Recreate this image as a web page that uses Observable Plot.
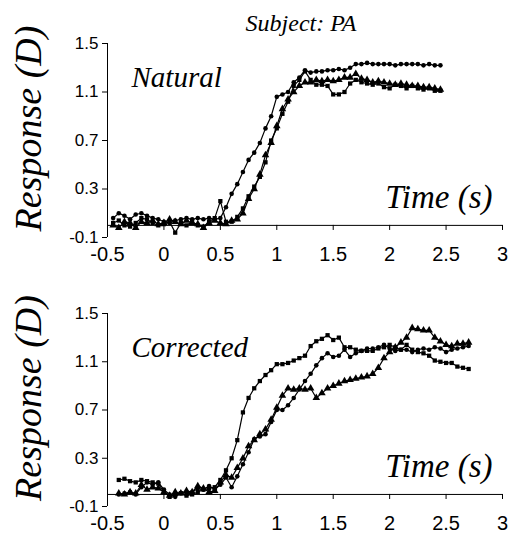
<!DOCTYPE html>
<html>
<head>
<meta charset="utf-8">
<script src="https://cdn.jsdelivr.net/npm/d3@7"></script>
<script src="https://cdn.jsdelivr.net/npm/@observablehq/plot@0.6"></script>
<style>
  html, body { margin: 0; padding: 0; background: #fff; }
  #chart svg { display: block; }
</style>
</head>
<body>
<div id="chart"></div>
<script>
// ---------- data ----------
const title = "Subject: PA";
const yLabel = "Response (D)";
const xLabel = "Time (s)";
const panelLabels = ["Natural", "Corrected"];
const yTicks = [-0.1, 0.3, 0.7, 1.1, 1.5];
const xTicks = [-0.5, 0, 0.5, 1, 1.5, 2, 2.5, 3];

const tTop = [-0.45,-0.4,-0.35,-0.3,-0.25,-0.2,-0.15,-0.1,-0.05,0,0.05,0.1,0.15,0.2,0.25,0.3,0.35,0.4,0.45,0.5,0.55,0.6,0.65,0.7,0.75,0.8,0.85,0.9,0.95,1,1.05,1.1,1.15,1.2,1.25,1.3,1.35,1.4,1.45,1.5,1.55,1.6,1.65,1.7,1.75,1.8,1.85,1.9,1.95,2,2.05,2.1,2.15,2.2,2.25,2.3,2.35,2.4,2.45];
const topCircle = [0.06,0.1,0.08,0.05,0.09,0.1,0.08,0.06,0.05,0.03,0.02,0.04,0.05,0.06,0.05,0.06,0.05,0.06,0.05,0.06,0.15,0.26,0.34,0.44,0.54,0.6,0.68,0.8,0.9,1.06,1.08,1.1,1.18,1.22,1.28,1.26,1.27,1.27,1.28,1.28,1.29,1.28,1.3,1.33,1.33,1.34,1.33,1.33,1.33,1.33,1.32,1.33,1.33,1.33,1.33,1.32,1.33,1.32,1.32];
const topSquare = [0.02,0.04,0.0,-0.01,0.02,0.06,0.05,0.02,0.0,0.01,0.03,-0.06,0.02,0.0,0.03,0.0,-0.01,0.03,0.06,0.2,0.03,0.03,0.07,0.14,0.24,0.32,0.4,0.52,0.7,0.8,0.92,1.02,1.15,1.2,1.27,1.2,1.16,1.16,1.15,1.08,1.08,1.1,1.17,1.2,1.18,1.17,1.16,1.17,1.14,1.13,1.16,1.15,1.13,1.15,1.13,1.12,1.13,1.11,1.11];
const topTriangle = [0.0,-0.02,0.03,0.02,-0.02,0.03,0.02,0.04,0.01,0.02,0.05,0.03,0.01,0.04,0.02,0.01,-0.02,0.02,0.04,0.02,0.01,0.04,0.05,0.1,0.22,0.3,0.42,0.58,0.68,0.82,0.96,1.04,1.1,1.15,1.18,1.18,1.2,1.19,1.2,1.19,1.2,1.22,1.22,1.25,1.21,1.2,1.18,1.19,1.18,1.17,1.16,1.17,1.16,1.15,1.15,1.14,1.14,1.13,1.12];

const tBot = [-0.4,-0.35,-0.3,-0.25,-0.2,-0.15,-0.1,-0.05,0,0.05,0.1,0.15,0.2,0.25,0.3,0.35,0.4,0.45,0.5,0.55,0.6,0.65,0.7,0.75,0.8,0.85,0.9,0.95,1,1.05,1.1,1.15,1.2,1.25,1.3,1.35,1.4,1.45,1.5,1.55,1.6,1.65,1.7,1.75,1.8,1.85,1.9,1.95,2,2.05,2.1,2.15,2.2,2.25,2.3,2.35,2.4,2.45,2.5,2.55,2.6,2.65,2.7];
const botSquare = [0.12,0.13,0.11,0.1,0.12,0.11,0.1,0.09,0.02,-0.02,0.0,0.01,-0.01,0.0,0.02,0.04,0.05,0.06,0.12,0.2,0.3,0.45,0.68,0.8,0.88,0.94,0.99,1.03,1.08,1.08,1.09,1.11,1.13,1.15,1.23,1.27,1.29,1.32,1.28,1.3,1.22,1.22,1.2,1.19,1.19,1.19,1.21,1.22,1.24,1.22,1.2,1.24,1.2,1.18,1.17,1.15,1.11,1.1,1.09,1.09,1.06,1.05,1.04];
const botCircle = [0.0,0.01,0.02,0.0,0.06,0.1,0.08,0.1,0.04,0.0,-0.02,0.01,0.0,0.02,0.05,0.04,0.07,0.04,0.08,0.14,0.06,0.15,0.25,0.35,0.46,0.48,0.5,0.6,0.7,0.7,0.74,0.8,0.87,0.94,1.0,1.07,1.13,1.17,1.14,1.15,1.2,1.14,1.17,1.19,1.21,1.21,1.22,1.24,1.21,1.19,1.2,1.2,1.18,1.2,1.21,1.2,1.22,1.21,1.18,1.2,1.21,1.22,1.23];
const botTriangle = [0.01,0.0,0.02,0.01,0.08,0.04,0.06,0.05,0.02,-0.01,0.02,0.01,0.03,0.02,0.07,0.05,0.02,0.03,0.1,0.16,0.14,0.22,0.3,0.4,0.45,0.5,0.54,0.62,0.72,0.82,0.88,0.87,0.88,0.87,0.88,0.8,0.84,0.88,0.9,0.92,0.94,0.95,0.96,0.97,0.98,1.0,1.05,1.13,1.18,1.22,1.26,1.3,1.38,1.37,1.36,1.36,1.3,1.27,1.24,1.23,1.25,1.25,1.26];

// ---------- build ----------
function rows(t, seriesList) {
  const out = [];
  for (const s of seriesList) s.values.forEach((v, i) => out.push({t: t[i], v, series: s.name, symbol: s.symbol}));
  return out;
}

const serif = "Liberation Serif";
const sans = "Liberation Sans";

function panel({t, seriesList, label, height, withTitle}) {
  const data = rows(t, seriesList);
  const marks = [
    Plot.ruleY([0], {stroke: "#000", strokeWidth: 1}),
    Plot.ruleX([-0.5], {stroke: "#000", strokeWidth: 1}),
    Plot.ruleX(xTicks, {x: d => d, y1: 0, y2: -0.042, stroke: "#000", strokeWidth: 1}),
    Plot.axisY({ticks: yTicks, tickSize: 5, tickPadding: 4, fontSize: 17, fontFamily: sans, tickFormat: d => String(d), label: null, stroke: "#000"}),
    Plot.axisX({ticks: xTicks, tickSize: 0, tickPadding: 9, fontSize: 20, fontFamily: sans, tickFormat: d => String(d), label: null}),
    Plot.line(data, {x: "t", y: "v", z: "series", stroke: "#000", strokeWidth: 1.2}),
    Plot.dot(data.filter(d => d.symbol === "circle"), {x: "t", y: "v", r: 2.3, symbol: "circle", fill: "#000", stroke: null}),
    Plot.dot(data.filter(d => d.symbol === "square"), {x: "t", y: "v", r: 2.4, symbol: "square", fill: "#000", stroke: null}),
    Plot.dot(data.filter(d => d.symbol === "triangle"), {x: "t", y: "v", r: 2.8, symbol: "triangle", fill: "#000", stroke: null}),
    Plot.text([label], {frameAnchor: "top-left", textAnchor: "start", lineAnchor: "bottom", dx: 24, dy: 43, fontSize: 29, fontStyle: "italic", fontFamily: serif, fill: "#000"}),
    Plot.text([xLabel], {frameAnchor: "bottom-right", textAnchor: "end", lineAnchor: "bottom", dx: -10, dy: -30, fontSize: 33, fontStyle: "italic", fontFamily: serif, fill: "#000"}),
    Plot.text([yLabel], {frameAnchor: "left", rotate: -90, textAnchor: "middle", lineAnchor: "middle", dx: -79, dy: -12, fontSize: 38, fontStyle: "italic", fontFamily: serif, fill: "#000"})
  ];
  if (withTitle) {
    marks.push(Plot.text([title], {frameAnchor: "top", textAnchor: "middle", lineAnchor: "bottom", dx: -4, dy: -13, fontSize: 24, fontStyle: "italic", fontFamily: serif, fill: "#000"}));
  }
  return Plot.plot({
    width: 510,
    height,
    marginLeft: 107,
    marginRight: 8,
    marginTop: 43,
    marginBottom: 33,
    x: {domain: [-0.5, 3]},
    y: {domain: [-0.1, 1.5]},
    style: {background: "#fff", color: "#000", overflow: "visible"},
    marks
  });
}

const topPanel = panel({
  t: tTop,
  seriesList: [
    {name: "circle", symbol: "circle", values: topCircle},
    {name: "square", symbol: "square", values: topSquare},
    {name: "triangle", symbol: "triangle", values: topTriangle}
  ],
  label: panelLabels[0], height: 270, withTitle: true
});
const bottomPanel = panel({
  t: tBot,
  seriesList: [
    {name: "square", symbol: "square", values: botSquare},
    {name: "circle", symbol: "circle", values: botCircle},
    {name: "triangle", symbol: "triangle", values: botTriangle}
  ],
  label: panelLabels[1], height: 269, withTitle: false
});
document.getElementById("chart").append(topPanel, bottomPanel);
</script>
</body>
</html>
